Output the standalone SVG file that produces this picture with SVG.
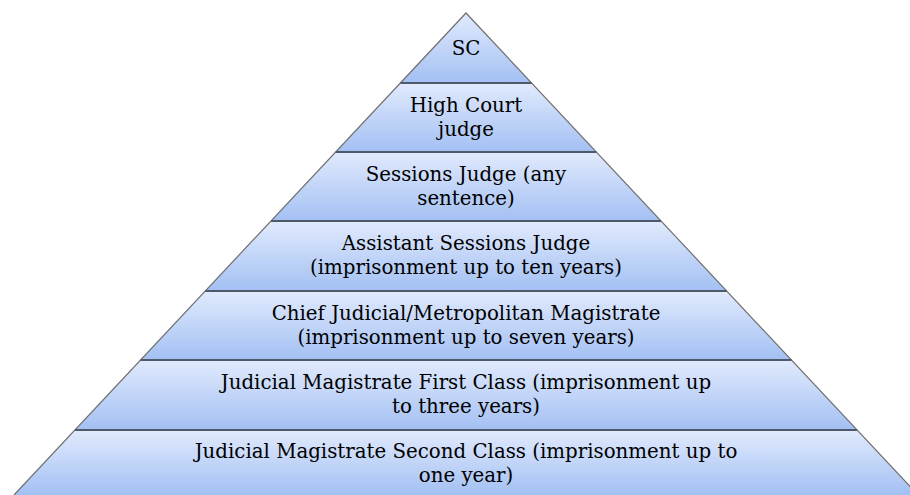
<svg xmlns="http://www.w3.org/2000/svg" width="910" height="495" viewBox="0 0 910 495">
<defs>
<linearGradient id="lg" x1="0" y1="0" x2="0" y2="1">
<stop offset="0" stop-color="#e1eafd"/>
<stop offset="1" stop-color="#a3c0f3"/>
</linearGradient>
</defs>
<style>
.layer{fill:url(#lg);stroke:none}
.side{stroke:#6f6f6f;stroke-width:1.2;fill:none}
.div{stroke:#4e5a6a;stroke-width:2;fill:none}
text{font-family:"DejaVu Serif","Liberation Serif",serif;font-size:19.8px;fill:#000;text-anchor:middle}
</style>
<rect width="910" height="495" fill="#ffffff"/>
<g id="layer-sc">
<polygon class="layer" points="466,13 531.6,83 400.4,83"/>
<text x="466" y="55">SC</text>
</g>
<g id="layer-hc">
<polygon class="layer" points="400.4,83 531.6,83 596.3,152 335.7,152"/>
<text x="466" y="112">High Court</text>
<text x="466" y="136">judge</text>
</g>
<g id="layer-sj">
<polygon class="layer" points="335.7,152 596.3,152 661,221 271,221"/>
<text x="466" y="181">Sessions Judge (any</text>
<text x="466" y="205">sentence)</text>
</g>
<g id="layer-asj">
<polygon class="layer" points="271,221 661,221 726.7,291 205.3,291"/>
<text x="466" y="250">Assistant Sessions Judge</text>
<text x="466" y="274">(imprisonment up to ten years)</text>
</g>
<g id="layer-cjm">
<polygon class="layer" points="205.3,291 726.7,291 791.4,360 140.6,360"/>
<text x="466" y="320">Chief Judicial/Metropolitan Magistrate</text>
<text x="466" y="344">(imprisonment up to seven years)</text>
</g>
<g id="layer-jm1">
<polygon class="layer" points="140.6,360 791.4,360 857,430 75,430"/>
<text x="466" y="389">Judicial Magistrate First Class (imprisonment up</text>
<text x="466" y="413">to three years)</text>
</g>
<g id="layer-jm2">
<polygon class="layer" points="75,430 857,430 918,495 14,495"/>
<text x="466" y="458">Judicial Magistrate Second Class (imprisonment up to</text>
<text x="466" y="482">one year)</text>
</g>
<g id="outline">
<polyline class="side" points="14,495 466,13 918,495"/>
<line class="div" x1="400.4" y1="83" x2="531.6" y2="83"/>
<line class="div" x1="335.7" y1="152" x2="596.3" y2="152"/>
<line class="div" x1="271" y1="221" x2="661" y2="221"/>
<line class="div" x1="205.3" y1="291" x2="726.7" y2="291"/>
<line class="div" x1="140.6" y1="360" x2="791.4" y2="360"/>
<line class="div" x1="75" y1="430" x2="857" y2="430"/>
</g>
</svg>
